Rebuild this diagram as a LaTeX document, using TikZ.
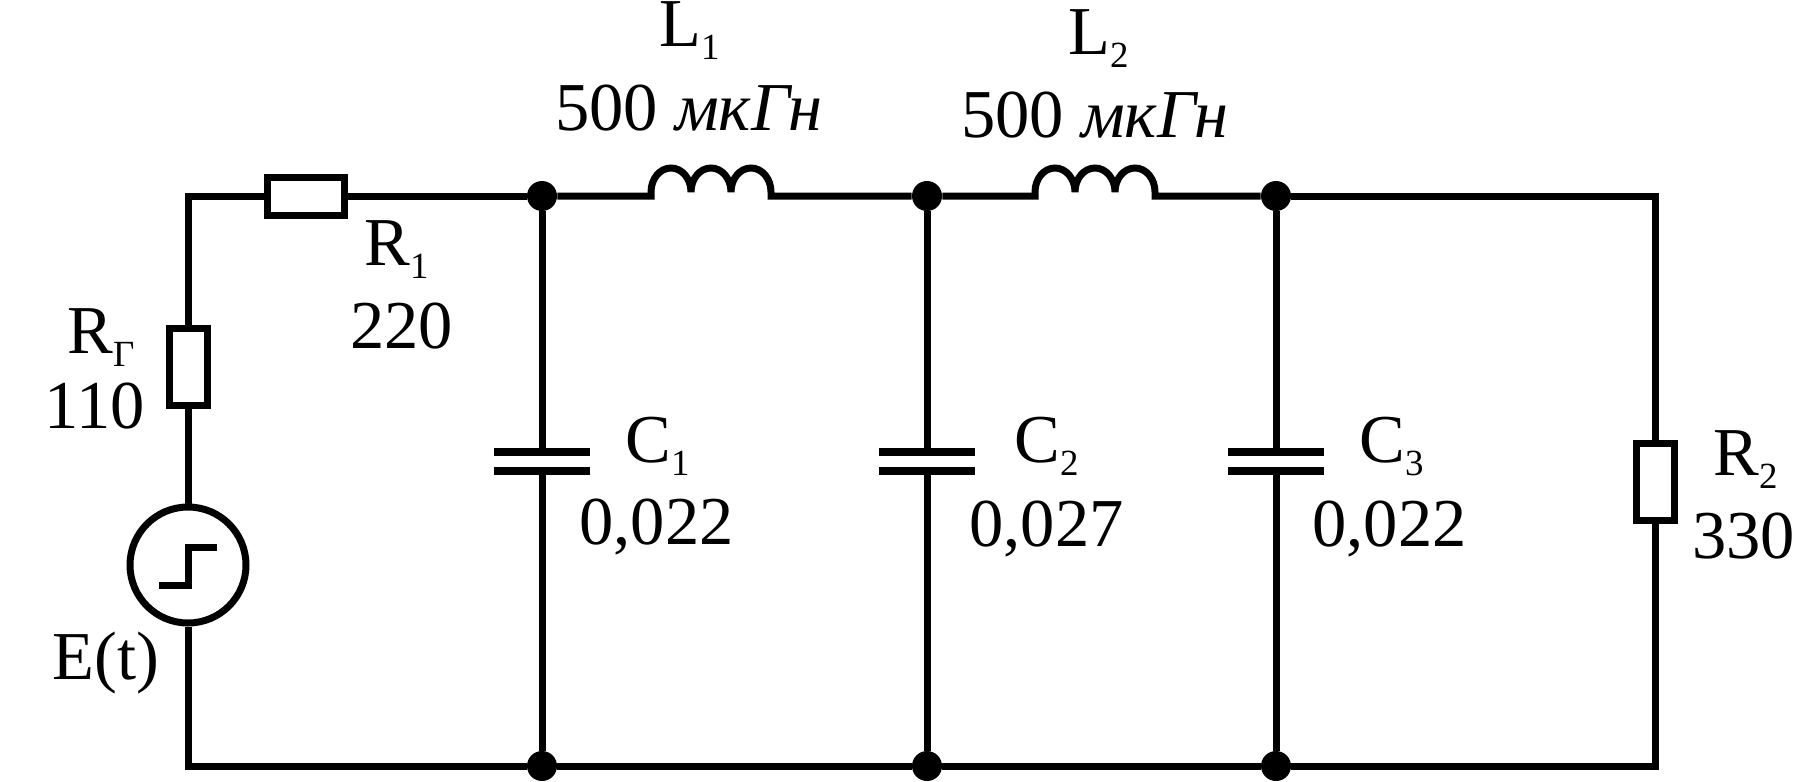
\documentclass[tikz,border=0pt]{standalone}
\usepackage{fontspec}
\setmainfont{Liberation Serif}
\newcommand{\subs}[2]{#1\raisebox{-0.2em}{\fontsize{21}{22}\selectfont #2}}
\tikzset{
    wire/.style={line width=7*0.02cm,black},
    lab/.style={anchor=base west,inner sep=0pt,font=\fontsize{39}{42}\selectfont},
    res/.style={draw,line width=7*0.02cm,fill=white,inner sep=0pt},
    dotnode/.style={inner sep=0pt,fill,circle,minimum size=30*0.02cm},
    plate/.style={inner sep=0pt,fill,rectangle,minimum width=96*0.02cm,minimum height=8*0.02cm}
}
\begin{document}
\begin{tikzpicture}[x=0.02cm,y=-0.02cm]
            \useasboundingbox (0,0) rectangle (1794,781);
            % corners
            \coordinate (tl) at (188,196);
            \coordinate (bl) at (188,766);
            \coordinate (tr) at (1655,196);
            \coordinate (br) at (1655,766);
            % junctions
            \node[dotnode] (j1) at (542,196) {};
            \node[dotnode] (j2) at (927,196) {};
            \node[dotnode] (j3) at (1276,196) {};
            \node[dotnode] (b1) at (542,766) {};
            \node[dotnode] (b2) at (927,766) {};
            \node[dotnode] (b3) at (1276,766) {};
            % source and resistors
            \node[res,circle,minimum size=116*0.02cm] (src) at (188,565) {};
            \node[res,minimum width=38*0.02cm,minimum height=77*0.02cm] (rg) at (188,367) {};
            \node[res,minimum width=77*0.02cm,minimum height=38*0.02cm] (r1) at (306,196) {};
            \node[res,minimum width=38*0.02cm,minimum height=77*0.02cm] (r2) at (1655,482) {};
            % capacitors
            \node[plate] (c1a) at (542,452) {};
            \node[plate] (c1b) at (542,471) {};
            \node[plate] (c2a) at (927,452) {};
            \node[plate] (c2b) at (927,471) {};
            \node[plate] (c3a) at (1276,452) {};
            \node[plate] (c3b) at (1276,471) {};
            % wires
            \draw[wire] (src) -- (bl) -- (b1) -- (b2) -- (b3) -- (br) -- (r2) -- (tr) -- (j3);
            \draw[wire] (src) -- (rg) -- (tl) -- (r1) -- (j1);
            \draw[wire] (j1) -- (c1a);
            \draw[wire] (c1b) -- (b1);
            \draw[wire] (j2) -- (c2a);
            \draw[wire] (c2b) -- (b2);
            \draw[wire] (j3) -- (c3a);
            \draw[wire] (c3b) -- (b3);
            % inductors
            \coordinate (l1a) at (651,192);
            \coordinate (l2a) at (1035,192);
            \draw[wire] (j1) -| (l1a) arc[start angle=180,end angle=360,x radius=20,y radius=24] arc[start angle=180,end angle=360,x radius=20,y radius=24] arc[start angle=180,end angle=360,x radius=20,y radius=24] |- (j2);
            \draw[wire] (j2) -| (l2a) arc[start angle=180,end angle=360,x radius=20,y radius=24] arc[start angle=180,end angle=360,x radius=20,y radius=24] arc[start angle=180,end angle=360,x radius=20,y radius=24] |- (j3);
            % step in the source
            \draw[wire] (159,585) -- (188,585) -- (188,547.5) -- (217,547.5);
            % labels
            \node[lab] (tl1) at (659,46) {\subs{L}{1}};
            \node[lab] (vl1) at (555,130) {500 \textit{мкГн}};
            \node[lab] (tl2) at (1068,54) {\subs{L}{2}};
            \node[lab] (vl2) at (961,137) {500 \textit{мкГн}};
            \node[lab] (tr1) at (364,265) {\subs{R}{1}};
            \node[lab] (vr1) at (350,348) {220};
            \node[lab] (trg) at (67,353) {\subs{R}{Г}};
            \node[lab] (vrg) at (44,428) {110};
            \node[lab] (te) at (52,679) {E(t)};
            \node[lab] (tc1) at (625,462) {\subs{C}{1}};
            \node[lab] (vc1) at (579,544) {0,022};
            \node[lab] (tc2) at (1014,462) {\subs{C}{2}};
            \node[lab] (vc2) at (969,546) {0,027};
            \node[lab] (tc3) at (1359,462) {\subs{C}{3}};
            \node[lab] (vc3) at (1312,546) {0,022};
            \node[lab] (tr2) at (1713,475) {\subs{R}{2}};
            \node[lab] (vr2) at (1692,558) {330};
\end{tikzpicture}
\end{document}
